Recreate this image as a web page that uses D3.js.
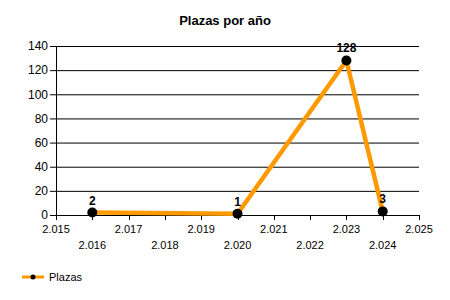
<!DOCTYPE html>
<html>
<head>
<meta charset="utf-8">
<script src="https://cdn.jsdelivr.net/npm/d3@7"></script>
<style>
body { margin: 0; background: #fff; }
text { font-family: "Liberation Sans", Arial, sans-serif; }
</style>
</head>
<body>
<div id="chart"></div>
<script>
// data
var years = [2016, 2020, 2023, 2024];
var plazas = [2, 1, 128, 3];
var y_ticks = [0, 20, 40, 60, 80, 100, 120, 140];
var x_ticks = d3.range(2015, 2026);

var chart_width = 450;
var chart_height = 300;
var orange = '#FF9900';

var svg = d3.select('#chart')
            .append('svg')
            .attr('width', chart_width)
            .attr('height', chart_height);

var x = d3.scaleLinear().domain([2015, 2025]).range([56, 419]);
var y = d3.scaleLinear().domain([0, 140]).range([215, 46]);

// title
svg.append('text')
   .attr('x', 225)
   .attr('y', 25)
   .attr('text-anchor', 'middle')
   .style('font-size', '13px')
   .style('font-weight', 'bold')
   .text('Plazas por año');

// horizontal grid + y axis
var yAxis = d3.axisLeft(y)
              .tickValues(y_ticks)
              .tickSize(-(419 - 50))
              .tickPadding(2);

var gy = svg.append('g')
   .attr('transform', 'translate(50,0)')
   .call(yAxis);
gy.select('.domain').remove();
gy.selectAll('.tick line').attr('stroke', '#000');
gy.selectAll('.tick text')
  .style('font-size', '12px')
  .attr('fill', '#000');

// vertical axis line
svg.append('line')
   .attr('x1', 56.5).attr('x2', 56.5)
   .attr('y1', y(140)).attr('y2', y(0))
   .attr('stroke', '#000');

// x axis ticks and staggered labels
var gx = svg.append('g');
gx.selectAll('line')
  .data(x_ticks)
  .enter()
  .append('line')
  .attr('x1', function(d){ return Math.round(x(d)) + 0.5; })
  .attr('x2', function(d){ return Math.round(x(d)) + 0.5; })
  .attr('y1', y(0))
  .attr('y2', y(0) + 5)
  .attr('stroke', '#000');

gx.selectAll('text')
  .data(x_ticks)
  .enter()
  .append('text')
  .attr('x', function(d){ return x(d); })
  .attr('y', function(d, i){ return i % 2 === 0 ? 233 : 249; })
  .attr('text-anchor', 'middle')
  .style('font-size', '11px')
  .text(function(d){ return d3.format(',')(d).replace(',', '.'); });

// series
var pts = years.map(function(d, i){ return {year: d, val: plazas[i]}; });

var line = d3.line()
             .x(function(d){ return x(d.year); })
             .y(function(d){ return y(d.val); });

svg.append('path')
   .datum(pts)
   .attr('d', line)
   .attr('fill', 'none')
   .attr('stroke', orange)
   .attr('stroke-width', 4.5)
   .attr('stroke-linejoin', 'miter');

svg.selectAll('circle.pt')
   .data(pts)
   .enter()
   .append('circle')
   .attr('class', 'pt')
   .attr('cx', function(d){ return x(d.year); })
   .attr('cy', function(d){ return y(d.val); })
   .attr('r', 5)
   .attr('fill', '#000');

svg.selectAll('text.lbl')
   .data(pts)
   .enter()
   .append('text')
   .attr('class', 'lbl')
   .attr('x', function(d){ return x(d.year); })
   .attr('y', function(d){ return y(d.val) - 8; })
   .attr('text-anchor', 'middle')
   .style('font-size', '12px')
   .style('font-weight', 'bold')
   .text(function(d){ return d.val; });

// legend
var lg = svg.append('g');
lg.append('line')
  .attr('x1', 22).attr('x2', 44)
  .attr('y1', 277).attr('y2', 277)
  .attr('stroke', orange)
  .attr('stroke-width', 3);
lg.append('circle')
  .attr('cx', 33).attr('cy', 277).attr('r', 2.5)
  .attr('fill', '#000');
lg.append('text')
  .attr('x', 49).attr('y', 281)
  .style('font-size', '11px')
  .text('Plazas');
</script>
</body>
</html>
